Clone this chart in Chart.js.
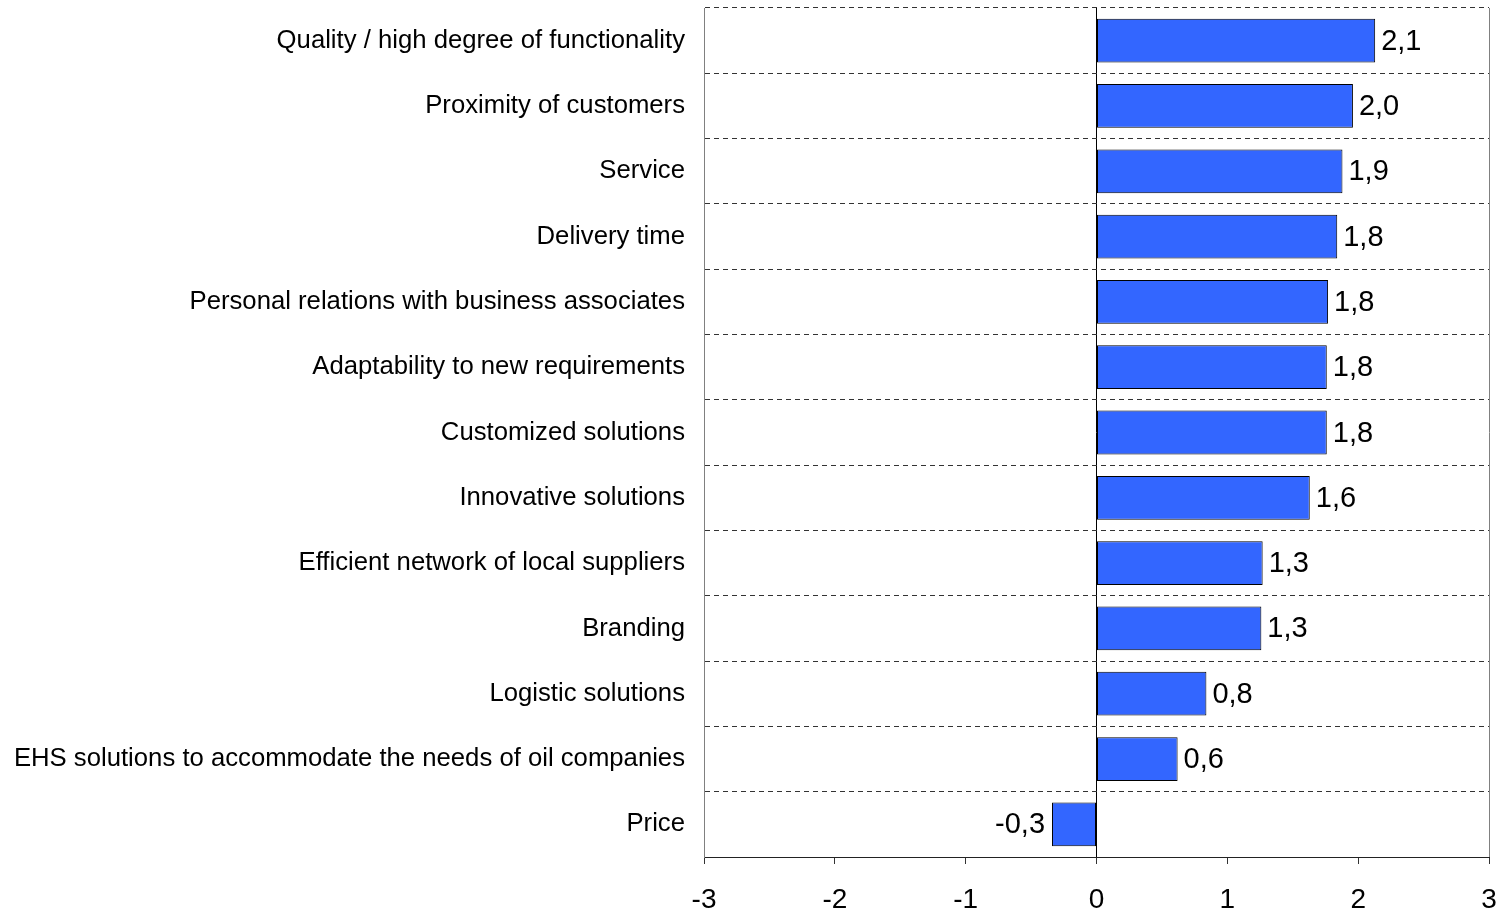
<!DOCTYPE html>
<html>
<head>
<meta charset="utf-8">
<script src="https://cdn.jsdelivr.net/npm/chart.js@4/dist/chart.umd.min.js"></script>
<style>
  html, body { margin: 0; padding: 0; background: #fff; }
  #wrap { width: 1501px; height: 913px; position: relative; }
</style>
</head>
<body>
<div id="wrap"><canvas id="chart"></canvas></div>
<script>
// 类别和数值
const categories = [
    'Quality / high degree of functionality',
    'Proximity of customers',
    'Service',
    'Delivery time',
    'Personal relations with business associates',
    'Adaptability to new requirements',
    'Customized solutions',
    'Innovative solutions',
    'Efficient network of local suppliers',
    'Branding',
    'Logistic solutions',
    'EHS solutions to accommodate the needs of oil companies',
    'Price'
];
const values = [2.13, 1.96, 1.88, 1.84, 1.77, 1.76, 1.76, 1.63, 1.27, 1.26, 0.84, 0.62, -0.34];
const xTicks = [-3, -2, -1, 0, 1, 2, 3];

const FONT = '"Liberation Sans", Arial, sans-serif';

// 数值标签（逗号作小数点）
function fmt(v) {
    return v.toFixed(1).replace('.', ',');
}

const valueLabels = {
    id: 'valueLabels',
    afterDatasetsDraw(chart) {
        const ctx = chart.ctx;
        const meta = chart.getDatasetMeta(0);
        ctx.save();
        ctx.font = '29px ' + FONT;
        ctx.fillStyle = '#000';
        ctx.textBaseline = 'middle';
        meta.data.forEach((bar, i) => {
            const v = values[i];
            if (v >= 0) {
                ctx.textAlign = 'left';
                ctx.fillText(fmt(v), bar.x + 6, bar.y + 1);
            } else {
                ctx.textAlign = 'right';
                ctx.fillText(fmt(v), bar.x - 7, bar.y + 1);
            }
        });
        ctx.restore();
    }
};

const ctx = document.getElementById('chart').getContext('2d');
new Chart(ctx, {
    type: 'bar',
    data: {
        labels: categories,
        datasets: [{
            data: values,
            backgroundColor: '#3366FF',
            borderColor: '#000',
            borderWidth: 1,
            borderSkipped: false,
            categoryPercentage: 1,
            barPercentage: 0.67
        }]
    },
    options: {
        indexAxis: 'y',
        responsive: true,
        maintainAspectRatio: false,
        animation: false,
        layout: { padding: { top: 8, right: 12, left: 0, bottom: 0 } },
        plugins: {
            legend: { display: false },
            tooltip: { enabled: false }
        },
        scales: {
            x: {
                min: -3,
                max: 3,
                afterBuildTicks: scale => {
                    scale.ticks = xTicks.map(v => ({ value: v }));
                },
                afterFit: scale => {
                    scale.height = 56;
                    scale.paddingLeft = 0;
                    scale.paddingRight = 0;
                },
                grid: {
                    color: c => {
                        const v = c.tick ? c.tick.value : null;
                        if (v === 0) return '#000';
                        if (v === -3 || v === 3) return '#808080';
                        return 'rgba(0,0,0,0)';
                    },
                    tickColor: '#333',
                    tickLength: 7,
                    lineWidth: 1
                },
                border: { display: true, color: '#222', width: 1 },
                ticks: {
                    color: '#000',
                    padding: 19,
                    maxRotation: 0,
                    minRotation: 0,
                    font: { family: FONT, size: 28 },
                    callback: v => String(v)
                }
            },
            y: {
                afterFit: scale => {
                    scale.width = 704;
                    scale.paddingTop = 0;
                    scale.paddingBottom = 0;
                },
                grid: {
                    color: '#333',
                    lineWidth: 1,
                    drawTicks: false,
                    offset: true
                },
                border: { display: true, color: '#808080', dash: [5, 4] },
                ticks: {
                    color: '#000',
                    padding: 19,
                    font: { family: FONT, size: 25.7 }
                }
            }
        }
    },
    plugins: [valueLabels]
});
</script>
</body>
</html>
